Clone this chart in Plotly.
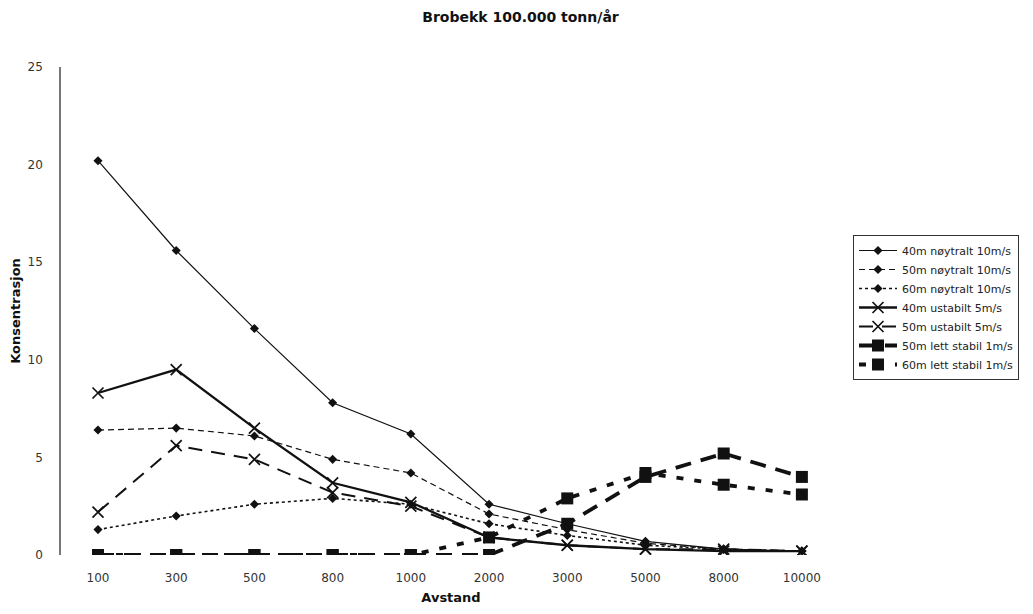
import plotly.graph_objects as go

avstand = ["100", "300", "500", "800", "1000", "2000", "3000", "5000", "8000", "10000"]

noyt_40 = [20.2, 15.6, 11.6, 7.8, 6.2, 2.6, 1.6, 0.7, 0.3, 0.2]
noyt_50 = [6.4, 6.5, 6.1, 4.9, 4.2, 2.1, 1.3, 0.6, 0.3, 0.2]
noyt_60 = [1.3, 2.0, 2.6, 2.9, 2.6, 1.6, 1.0, 0.5, 0.3, 0.2]
ustab_40 = [8.3, 9.5, 6.5, 3.7, 2.7, 0.9, 0.5, 0.3, 0.2, 0.2]
ustab_50 = [2.2, 5.6, 4.9, 3.2, 2.5, 0.9, 0.5, 0.3, 0.3, 0.2]
stab_50 = [0, 0, 0, 0, 0, 0, 1.6, 4.0, 5.2, 4.0]
stab_60 = [0, 0, 0, 0, 0, 0.9, 2.9, 4.2, 3.6, 3.1]

names = [
    "40m nøytralt 10m/s",
    "50m nøytralt 10m/s",
    "60m nøytralt 10m/s",
    "40m ustabilt 5m/s",
    "50m ustabilt 5m/s",
    "50m lett stabil 1m/s",
    "60m lett stabil 1m/s",
]

FONT = "DejaVu Sans, Liberation Sans, sans-serif"
BLACK = "#111111"
W, H = 1025, 606

fig = go.Figure()

def add(y, name, dash, width, symbol, size, mline=0):
    fig.add_trace(go.Scatter(
        x=avstand, y=y, name=name, mode="lines+markers",
        line=dict(color=BLACK, width=width, dash=dash),
        marker=dict(symbol=symbol, size=size, color=BLACK,
                    line=dict(color=BLACK, width=mline)),
    ))

add(noyt_40, names[0], "solid", 1.2, "diamond", 7)
add(noyt_50, names[1], "6px,4px", 1.2, "diamond", 7)
add(noyt_60, names[2], "dot", 1.6, "diamond", 7)
add(ustab_40, names[3], "solid", 2.3, "x-thin", 11, 1.7)
add(ustab_50, names[4], "14px,9px", 2.0, "x-thin", 11, 1.7)
add(stab_50, names[5], "16px,10px", 3.8, "square", 12)
add(stab_60, names[6], "7px,11px", 3.8, "square", 12)

fig.update_layout(
    width=W, height=H,
    paper_bgcolor="white", plot_bgcolor="white",
    margin=dict(l=53, r=192, t=59, b=59, autoexpand=False),
    font=dict(family=FONT, size=12, color="#333333"),
    title=dict(text="<b>Brobekk 100.000 tonn/år</b>", x=0.5, xref="container",
               xanchor="center", y=1 - 9 / H, yref="container", yanchor="middle",
               font=dict(family=FONT, size=14, color=BLACK)),
    showlegend=True,
    legend=dict(xref="container", yref="container", x=845 / W, y=1 - 227 / H,
                xanchor="left", yanchor="top", bordercolor="#333333", borderwidth=1,
                bgcolor="white", font=dict(family=FONT, size=11, color="#222222"),
                tracegroupgap=0, itemwidth=38),
)

fig.update_xaxes(
    type="category", range=[-0.473, 9.5], showline=False, showgrid=False,
    zeroline=False, ticks="", ticklabelstandoff=14, automargin=False,
    tickfont=dict(family=FONT, size=12, color="#333333"),
    title=dict(text="<b>Avstand</b>", font=dict(family=FONT, size=13, color=BLACK),
               standoff=8),
)
fig.update_yaxes(
    range=[0, 25], dtick=5, showline=True, linecolor="#777777", linewidth=1.5,
    showgrid=False, zeroline=False, ticks="", ticklabelstandoff=14, automargin=False,
    tickfont=dict(family=FONT, size=12, color="#333333"),
    title=dict(text="<b>Konsentrasjon</b>", font=dict(family=FONT, size=13, color=BLACK),
               standoff=4),
)

fig.write_html("out.html")
